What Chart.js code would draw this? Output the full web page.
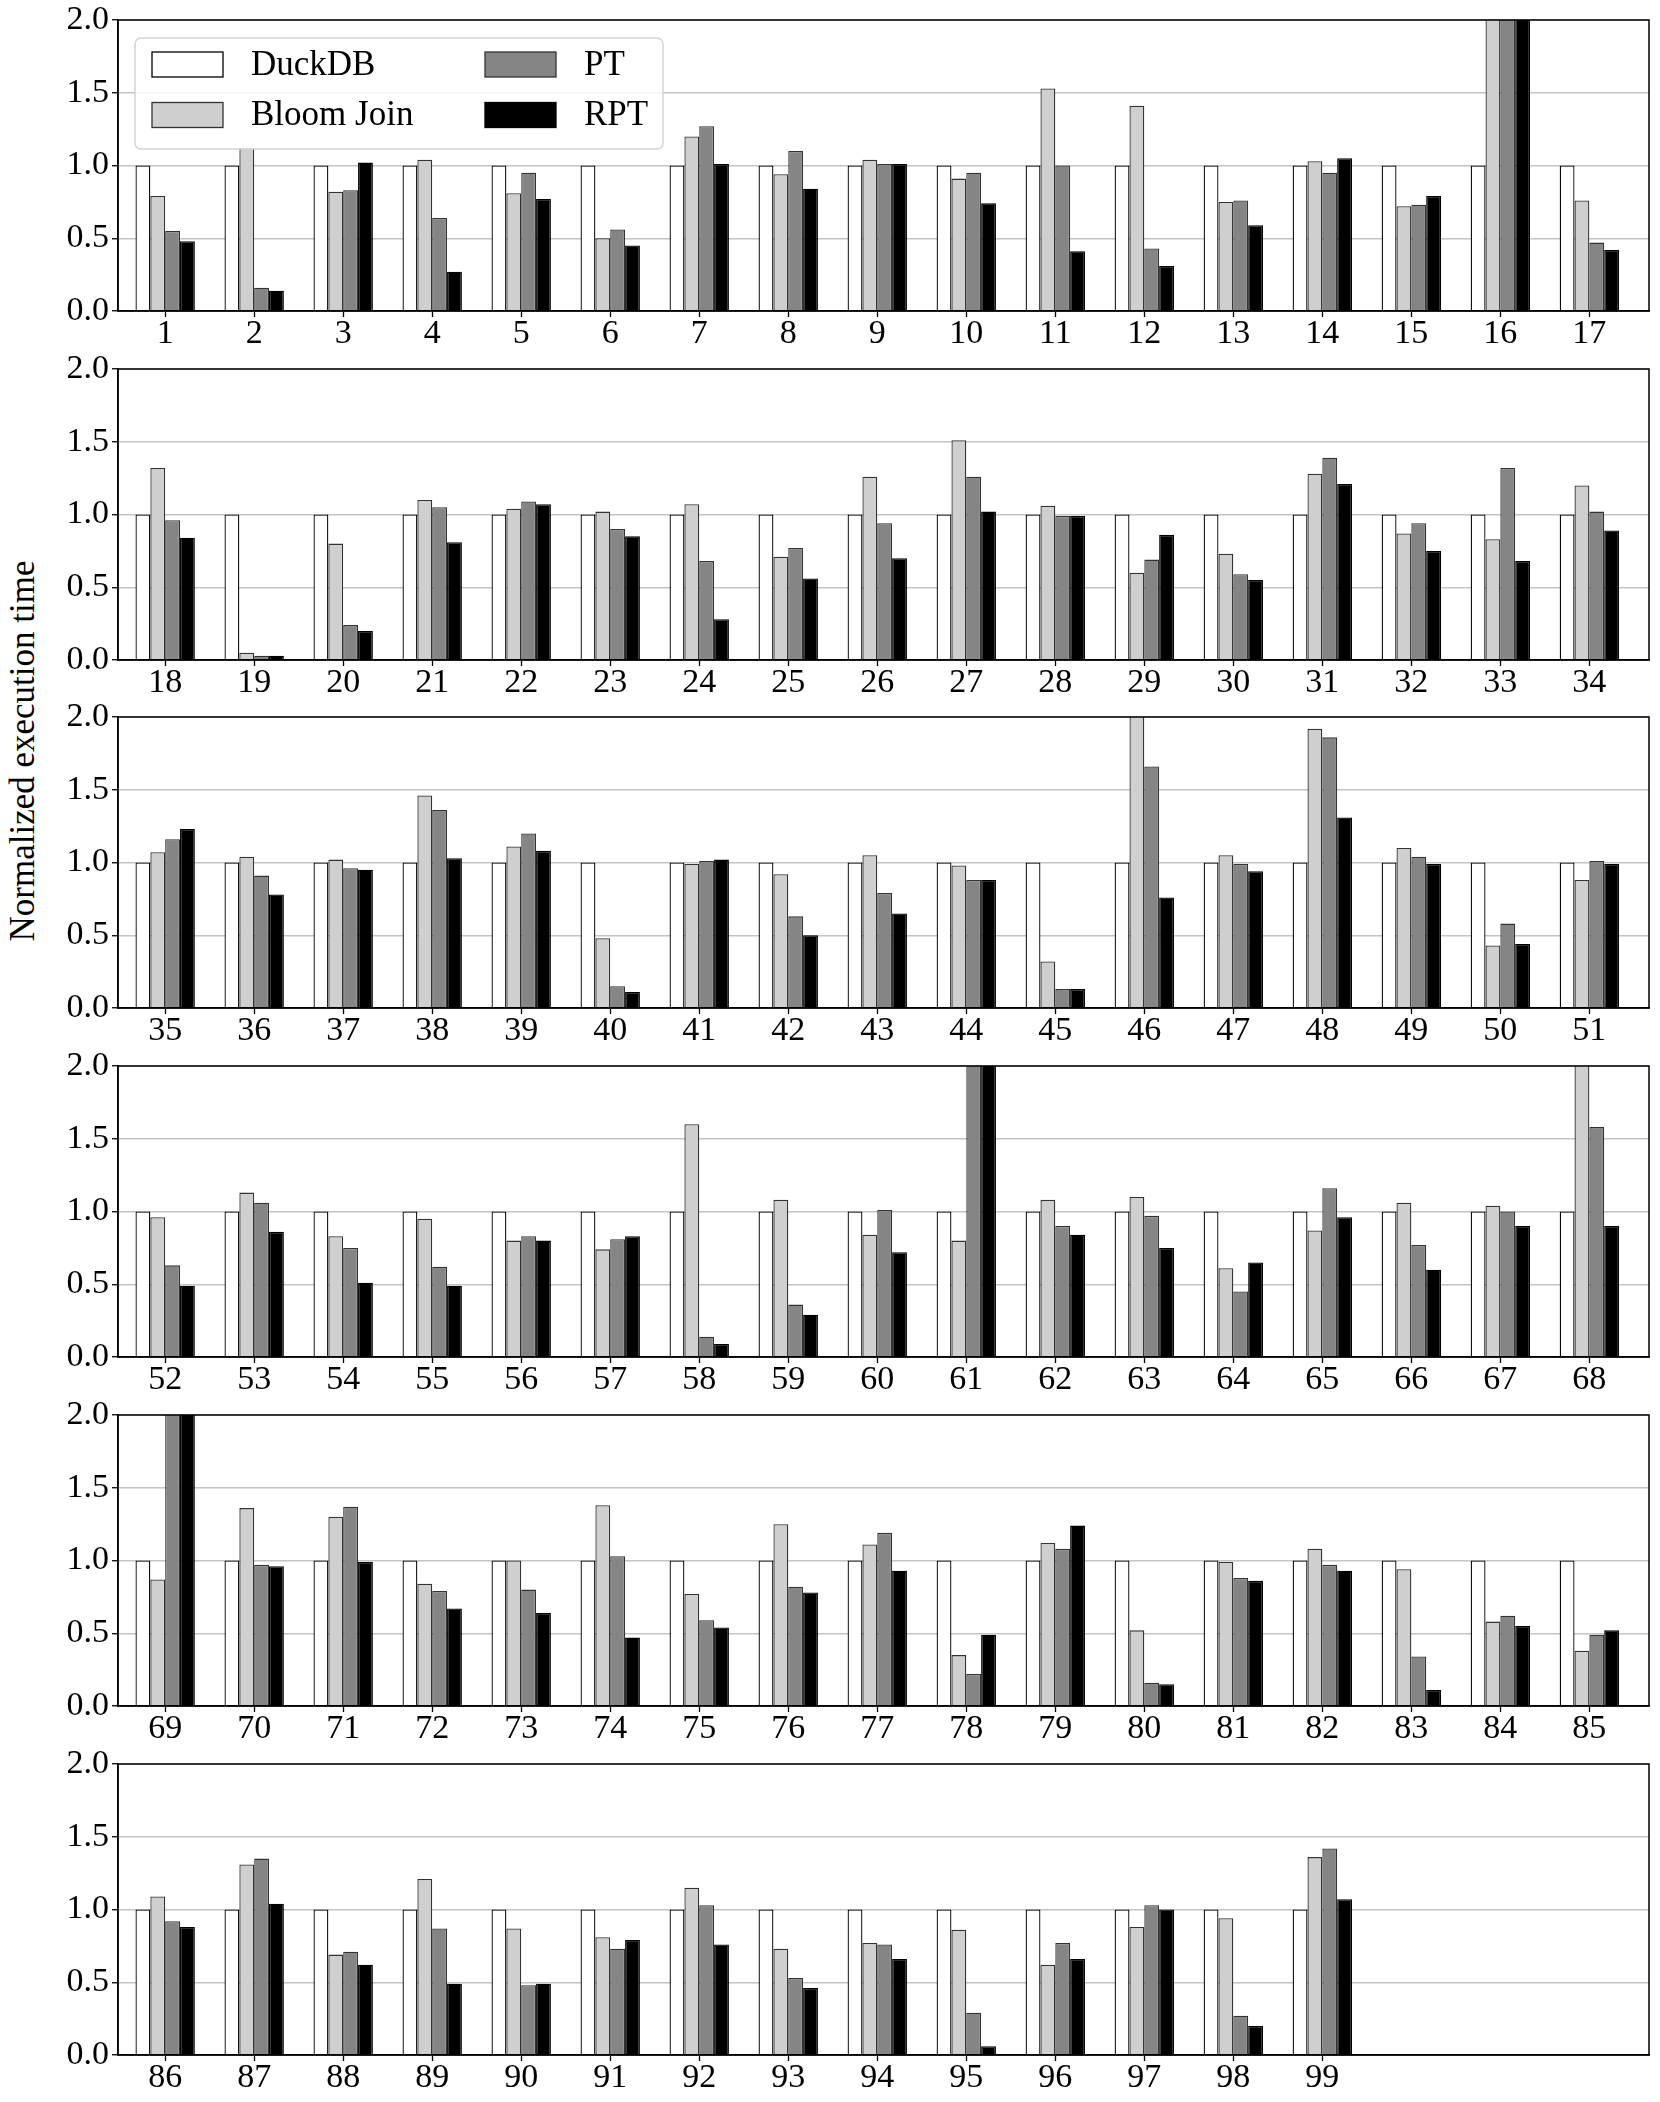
<!DOCTYPE html>
<html>
<head>
<meta charset="utf-8">
<script src="https://cdn.jsdelivr.net/npm/chart.js@4.4.0/dist/chart.umd.min.js"></script>
<style>
  body { margin: 0; background: #fff; width: 1660px; height: 2102px; position: relative; overflow: hidden; }
  canvas.panel { position: absolute; left: 0; }
  #ylabel {
    position: absolute; left: 23px; top: 751px;
    transform: translate(-50%, -50%) rotate(-90deg);
    font: 35px "Liberation Serif", "Times New Roman", serif; white-space: nowrap; color: #000;
  }
</style>
</head>
<body>
<div id="ylabel">Normalized execution time</div>
<script>
// Datos: 99 consultas, tiempo normalizado respecto a DuckDB
const seriesNames = ['DuckDB', 'Bloom Join', 'PT', 'RPT'];
const queries = Array.from({ length: 99 }, (_, i) => String(i + 1));

const duckdb = [
  1, 1, 1, 1, 1, 1, 1, 1, 1, 1, 1, 1, 1, 1, 1, 1, 1,
  1, 1, 1, 1, 1, 1, 1, 1, 1, 1, 1, 1, 1, 1, 1, 1, 1,
  1, 1, 1, 1, 1, 1, 1, 1, 1, 1, 1, 1, 1, 1, 1, 1, 1,
  1, 1, 1, 1, 1, 1, 1, 1, 1, 1, 1, 1, 1, 1, 1, 1, 1,
  1, 1, 1, 1, 1, 1, 1, 1, 1, 1, 1, 1, 1, 1, 1, 1, 1,
  1, 1, 1, 1, 1, 1, 1, 1, 1, 1, 1, 1, 1, 1
];
const bloomJoin = [
  0.79, 1.12, 0.82, 1.04, 0.81, 0.50, 1.20, 0.94, 1.04, 0.91, 1.53, 1.41, 0.75, 1.03, 0.72, 2.30, 0.76,
  1.32, 0.05, 0.80, 1.10, 1.04, 1.02, 1.07, 0.71, 1.26, 1.51, 1.06, 0.60, 0.73, 1.28, 0.87, 0.83, 1.20,
  1.07, 1.04, 1.02, 1.46, 1.11, 0.48, 0.99, 0.92, 1.05, 0.98, 0.32, 2.30, 1.05, 1.92, 1.10, 0.43, 0.88,
  0.96, 1.13, 0.83, 0.95, 0.80, 0.74, 1.60, 1.08, 0.84, 0.80, 1.08, 1.10, 0.61, 0.87, 1.06, 1.04, 2.30,
  0.87, 1.36, 1.30, 0.84, 1.00, 1.38, 0.77, 1.25, 1.11, 0.35, 1.12, 0.52, 0.99, 1.08, 0.94, 0.58, 0.38,
  1.09, 1.31, 0.69, 1.21, 0.87, 0.81, 1.15, 0.73, 0.77, 0.86, 0.62, 0.88, 0.94, 1.36
];
const pt = [
  0.55, 0.16, 0.83, 0.64, 0.95, 0.56, 1.27, 1.10, 1.01, 0.95, 1.00, 0.43, 0.76, 0.95, 0.73, 2.30, 0.47,
  0.96, 0.03, 0.24, 1.05, 1.09, 0.90, 0.68, 0.77, 0.94, 1.26, 0.99, 0.69, 0.59, 1.39, 0.94, 1.32, 1.02,
  1.16, 0.91, 0.96, 1.36, 1.20, 0.15, 1.01, 0.63, 0.79, 0.88, 0.13, 1.66, 0.99, 1.86, 1.04, 0.58, 1.01,
  0.63, 1.06, 0.75, 0.62, 0.83, 0.81, 0.14, 0.36, 1.01, 2.30, 0.90, 0.97, 0.45, 1.16, 0.77, 1.00, 1.58,
  2.30, 0.97, 1.37, 0.79, 0.80, 1.03, 0.59, 0.82, 1.19, 0.22, 1.08, 0.16, 0.88, 0.97, 0.34, 0.62, 0.49,
  0.92, 1.35, 0.71, 0.87, 0.48, 0.73, 1.03, 0.53, 0.76, 0.29, 0.77, 1.03, 0.27, 1.42
];
const rpt = [
  0.48, 0.14, 1.02, 0.27, 0.77, 0.45, 1.01, 0.84, 1.01, 0.74, 0.41, 0.31, 0.59, 1.05, 0.79, 2.30, 0.42,
  0.84, 0.03, 0.20, 0.81, 1.07, 0.85, 0.28, 0.56, 0.70, 1.02, 0.99, 0.86, 0.55, 1.21, 0.75, 0.68, 0.89,
  1.23, 0.78, 0.95, 1.03, 1.08, 0.11, 1.02, 0.50, 0.65, 0.88, 0.13, 0.76, 0.94, 1.31, 0.99, 0.44, 0.99,
  0.49, 0.86, 0.51, 0.49, 0.80, 0.83, 0.09, 0.29, 0.72, 2.30, 0.84, 0.75, 0.65, 0.96, 0.60, 0.90, 0.90,
  2.30, 0.96, 0.99, 0.67, 0.64, 0.47, 0.54, 0.78, 0.93, 0.49, 1.24, 0.15, 0.86, 0.93, 0.11, 0.55, 0.52,
  0.88, 1.04, 0.62, 0.49, 0.49, 0.79, 0.76, 0.46, 0.66, 0.06, 0.66, 1.00, 0.20, 1.07
];
const yTicks = [0, 0.5, 1.0, 1.5, 2.0];

const allSeries = [duckdb, bloomJoin, pt, rpt];
const fills = ['#ffffff', '#cfcfcf', '#858585', '#000000'];
const edges = ['#000000', '#333333', '#333333', '#000000'];

const PER_PANEL = 17;
const FONT = '"Liberation Serif", "Times New Roman", serif';
const PAD_TOP = 24;
const PLOT_H = 291;
const X_AXIS_H = 48;
const PITCH = 348.7;

// Marco completo alrededor del área
const framePlugin = {
  id: 'frame',
  afterDraw(chart) {
    const { ctx, chartArea: a } = chart;
    ctx.save();
    ctx.strokeStyle = '#000';
    ctx.lineWidth = 1.5;
    ctx.strokeRect(a.left, a.top, a.right - a.left, a.bottom - a.top);
    ctx.restore();
  }
};

// Leyenda dentro del primer panel (dos columnas)
const insideLegend = {
  id: 'insideLegend',
  afterDraw(chart) {
    const { ctx, chartArea: a } = chart;
    const x0 = a.left + 17, y0 = a.top + 18, w = 528, h = 111;
    ctx.save();
    ctx.beginPath();
    ctx.roundRect(x0, y0, w, h, 6);
    ctx.fillStyle = 'rgba(255,255,255,0.85)';
    ctx.fill();
    ctx.strokeStyle = '#d4d4d4';
    ctx.lineWidth = 1.5;
    ctx.stroke();
    ctx.font = '35px ' + FONT;
    ctx.textBaseline = 'middle';
    chart.data.datasets.forEach((ds, i) => {
      const col = Math.floor(i / 2), row = i % 2;
      const px = x0 + 17 + col * 333;
      const cy = y0 + 26.5 + row * 50.5;
      ctx.fillStyle = ds.backgroundColor;
      ctx.fillRect(px, cy - 12.5, 71, 25);
      ctx.strokeStyle = ds.borderColor;
      ctx.lineWidth = 1.3;
      ctx.strokeRect(px, cy - 12.5, 71, 25);
      ctx.fillStyle = '#000';
      ctx.fillText(ds.label, px + 99, cy + 1);
    });
    ctx.restore();
  }
};

for (let p = 0; p < 6; p++) {
  const start = p * PER_PANEL;
  const names = queries.slice(start, start + PER_PANEL);
  const slots = names.map((_, i) => i);

  const canvas = document.createElement('canvas');
  canvas.className = 'panel';
  canvas.width = 1660;
  canvas.height = PAD_TOP + PLOT_H + X_AXIS_H;
  canvas.style.top = (20 + p * PITCH - PAD_TOP) + 'px';
  document.body.appendChild(canvas);

  const datasets = allSeries.map((s, j) => ({
    label: seriesNames[j],
    data: s.slice(start, start + PER_PANEL),
    backgroundColor: fills[j],
    borderColor: edges[j],
    borderWidth: 1.3,
    categoryPercentage: 0.667,
    barPercentage: 1.0
  }));

  new Chart(canvas.getContext('2d'), {
    type: 'bar',
    data: { labels: slots, datasets },
    plugins: p === 0 ? [framePlugin, insideLegend] : [framePlugin],
    options: {
      responsive: false,
      animation: false,
      devicePixelRatio: 1,
      layout: { padding: { top: PAD_TOP, right: 11, left: 0, bottom: 0 } },
      plugins: { legend: { display: false }, tooltip: { enabled: false } },
      scales: {
        x: {
          type: 'linear',
          offset: false,
          min: -0.53,
          max: 16.67,
          afterFit: scale => { scale.height = X_AXIS_H; },
          afterBuildTicks: scale => { scale.ticks = slots.map(v => ({ value: v })); },
          grid: { offset: false, drawOnChartArea: false, tickLength: 6, tickColor: '#000', tickWidth: 1.3 },
          border: { color: '#000', width: 1.5 },
          ticks: {
            includeBounds: false,
            autoSkip: false,
            maxRotation: 0,
            padding: -3,
            color: '#000',
            font: { family: FONT, size: 34 },
            callback: v => names[v] ?? ''
          }
        },
        y: {
          min: 0,
          max: 2,
          z: 1,
          afterFit: scale => { scale.width = 118; },
          afterBuildTicks: scale => { scale.ticks = yTicks.map(v => ({ value: v })); },
          grid: { color: '#c4c4c4', lineWidth: 1.5, tickLength: 6, tickColor: '#000', tickWidth: 1.3 },
          border: { color: '#000', width: 1.5 },
          ticks: {
            padding: 3,
            color: '#000',
            font: { family: FONT, size: 34 },
            callback: v => Number(v).toFixed(1)
          }
        }
      }
    }
  });
}
</script>
</body>
</html>
